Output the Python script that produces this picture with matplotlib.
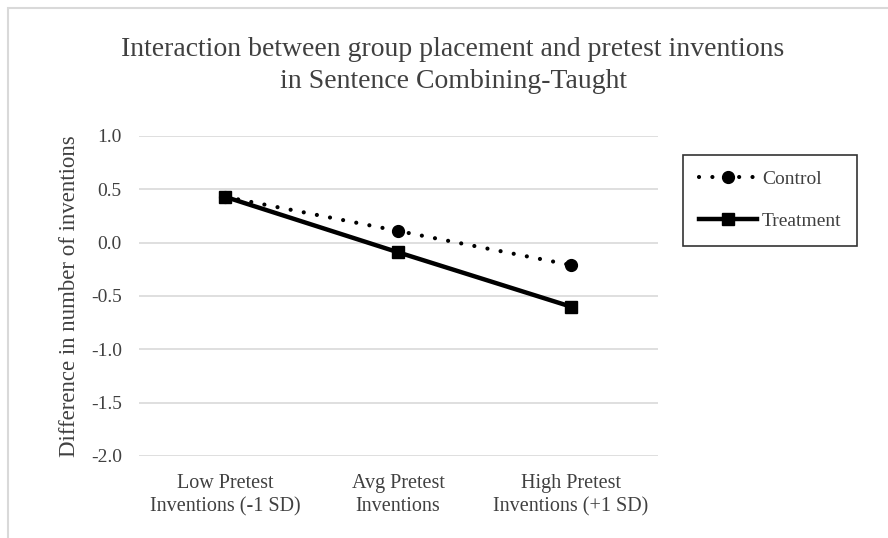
import matplotlib
matplotlib.use("Agg")
import matplotlib.pyplot as plt
from matplotlib.patches import Rectangle

# --------- data ---------------------------------
categories = ["Low Pretest\nInventions (-1 SD)", "Avg Pretest\nInventions", "High Pretest\nInventions (+1 SD)"]
control = [0.43, 0.11, -0.21]
treatment = [0.43, -0.09, -0.60]
yticks = [1.0, 0.5, 0.0, -0.5, -1.0, -1.5, -2.0]

TEXT = "#404040"
plt.rcParams["font.family"] = ["Liberation Serif", "DejaVu Serif"]

fig = plt.figure(figsize=(8.88, 5.38), dpi=100)
ax = fig.add_axes([138.5 / 888, 1 - 456 / 538, (657.5 - 138.5) / 888, (456 - 136) / 538])

x = list(range(len(categories)))
ax.plot(x, control, color="black", lw=3, linestyle=(0, (0.01, 3.2)), dash_capstyle="round",
        marker="o", ms=8.5, label="Control", zorder=3)
ax.plot(x, treatment, color="black", lw=3.2, marker="s", ms=8.5, label="Treatment", zorder=3)

ax.set_xlim(-0.5, len(categories) - 0.5)
ax.set_ylim(-2.0, 1.0)
ax.set_yticks(yticks)
ax.set_yticklabels([f"{v:.1f}" for v in yticks])
ax.set_xticks(x)
ax.set_xticklabels(categories, fontsize=14.5, color=TEXT, linespacing=1.3)
ax.tick_params(axis="y", labelsize=14, colors=TEXT, length=0, pad=12)
ax.tick_params(axis="x", length=0, pad=13, colors=TEXT)
ax.grid(axis="y", color="#d9d9d9", lw=1.2)
ax.set_axisbelow(True)
for s in ax.spines.values():
    s.set_visible(False)

ax.set_ylabel("Difference in number of inventions", fontsize=16.5, color=TEXT, labelpad=8)

fig.text(453 / 888, 1 - 50 / 538, "Interaction between group placement and pretest inventions",
         ha="center", va="center", fontsize=20, color=TEXT)
fig.text(453 / 888, 1 - 82 / 538, "in Sentence Combining-Taught",
         ha="center", va="center", fontsize=20, color=TEXT)

leg = fig.legend(loc="upper left", bbox_to_anchor=(683 / 888, 1 - 155 / 538), frameon=True,
                 fancybox=False, edgecolor="black", fontsize=14, handlelength=3.0,
                 handletextpad=0.25, labelspacing=1.25, borderpad=0.8, borderaxespad=0,
                 labelcolor=TEXT)
leg.get_frame().set_linewidth(1.2)

# outer light-grey chart border
fig.patches.append(Rectangle((8 / 888, -0.1), 1.0, 1 - 8 / 538 + 0.1, transform=fig.transFigure,
                             fill=False, edgecolor="#d9d9d9", lw=1.5))

fig.savefig("out.png", dpi=100)
